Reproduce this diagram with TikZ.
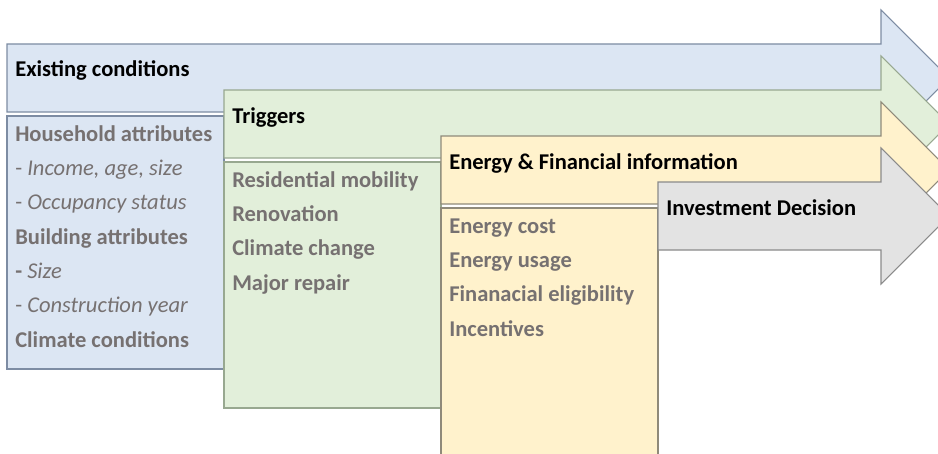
\documentclass[tikz,border=0pt]{standalone}
\usepackage{fontspec}
\setmainfont{Carlito}

\definecolor{blfill}{HTML}{DCE6F3}
\definecolor{blline}{HTML}{7D8CA3}
\definecolor{grfill}{HTML}{E2EFDA}
\definecolor{grline}{HTML}{98A890}
\definecolor{yefill}{HTML}{FFF2CC}
\definecolor{yeline}{HTML}{8F8A7A}
\definecolor{gyfill}{HTML}{E3E3E3}
\definecolor{gyline}{HTML}{8A8A8A}
\definecolor{txtgray}{HTML}{767171}

\tikzset{
  stage/.style={line width=0.8pt, line join=miter},
  title/.style={anchor=base west, inner sep=0pt, font=\fontsize{16.9}{20}\selectfont\bfseries},
  item/.style={anchor=base west, inner sep=0pt, text=txtgray, font=\fontsize{16.9}{20}\selectfont\bfseries},
  subitem/.style={anchor=base west, inner sep=0pt, text=txtgray, font=\fontsize{16.9}{20}\selectfont}
}

\begin{document}
\begin{tikzpicture}[x=0.75pt, y=-0.75pt]
    \useasboundingbox (0, 0) rectangle (938, 453);
    \clip (0, 0) rectangle (938, 453);

    \draw [stage, fill=blfill, draw=blline] (7, 44) -- (881, 44) -- (881, 10) -- (949, 78) -- (881, 146) -- (881, 112) -- (7, 112) -- cycle;
    \draw [stage, fill=blfill, draw=blline] (7, 116) rectangle (224, 369);
    \node [title] (exist) at (15, 77) {Existing conditions};
    \node [item] (house) at (15, 141) {Household attributes};
    \node [subitem] (income) at (15, 175.3) {- \textit{Income, age, size}};
    \node [subitem] (occup) at (15, 209.6) {- \textit{Occupancy status}};
    \node [item] (build) at (15, 244) {Building attributes};
    \node [subitem] (size) at (15, 278.3) {\textbf{-} \textit{Size}};
    \node [subitem] (year) at (15, 312.6) {- \textit{Construction year}};
    \node [item] (climcond) at (15, 347) {Climate conditions};

    \draw [stage, fill=grfill, draw=grline] (224, 90) -- (881, 90) -- (881, 56) -- (949, 124) -- (881, 192) -- (881, 158) -- (224, 158) -- cycle;
    \draw [stage, fill=grfill, draw=grline] (224, 162) rectangle (441, 408);
    \node [title] (trig) at (232, 123) {Triggers};
    \node [item] (mobil) at (232, 187) {Residential mobility};
    \node [item] (renov) at (232, 221.3) {Renovation};
    \node [item] (climch) at (232, 255.6) {Climate change};
    \node [item] (repair) at (232, 290) {Major repair};

    \draw [stage, fill=yefill, draw=yeline] (441, 136) -- (881, 136) -- (881, 102) -- (949, 170) -- (881, 238) -- (881, 204) -- (441, 204) -- cycle;
    \draw [stage, fill=yefill, draw=yeline] (441, 208) rectangle (658, 470);
    \node [title] (info) at (449, 169) {Energy \& Financial information};
    \node [item] (cost) at (449, 233) {Energy cost};
    \node [item] (usage) at (449, 267.3) {Energy usage};
    \node [item] (elig) at (449, 301.6) {Finanacial eligibility};
    \node [item] (incent) at (449, 336) {Incentives};

    \draw [stage, fill=gyfill, draw=gyline] (658, 182) -- (881, 182) -- (881, 148) -- (949, 216) -- (881, 284) -- (881, 250) -- (658, 250) -- cycle;
    \node [title] (decision) at (666, 215) {Investment Decision};
\end{tikzpicture}
\end{document}
